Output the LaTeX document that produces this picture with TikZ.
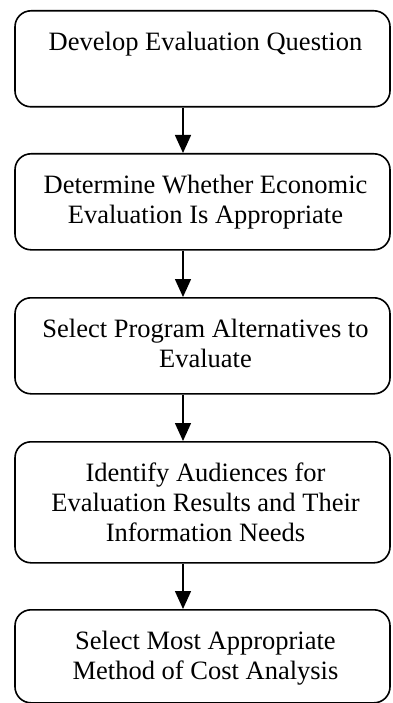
\documentclass[tikz,border=0pt]{standalone}
\usepackage{fontspec}
\setmainfont{Liberation Serif}
\usetikzlibrary{arrows.meta}
\begin{document}
\begin{tikzpicture}[x=1pt,y=-1pt,
  stage/.style={draw=black, line width=1.6pt, rounded corners=16pt,
                minimum width=375pt, inner sep=0pt, anchor=north},
  lbl/.style={align=center, inner sep=0pt, anchor=north,
              font=\fontsize{26.5}{30}\selectfont},
  flow/.style={line width=1.5pt, -{Triangle[length=18pt,width=16pt]}}]
\useasboundingbox (0,0) rectangle (392,703);

% stage boxes
\node[stage, minimum height=96pt]  (b1) at (202.5,10)  {};
\node[stage, minimum height=96pt]  (b2) at (202.5,153) {};
\node[stage, minimum height=96pt]  (b3) at (202.5,297) {};
\node[stage, minimum height=121pt] (b4) at (202.5,441) {};
\node[stage, minimum height=93pt]  (b5) at (202.5,609) {};

% stage texts, set near the top of each box
\node[lbl] (t1) at ([xshift=3pt,yshift=-22pt]b1.north) {Develop Evaluation Question};
\node[lbl] (t2) at ([xshift=3pt,yshift=-22pt]b2.north) {Determine Whether Economic\\Evaluation Is Appropriate};
\node[lbl] (t3) at ([xshift=3pt,yshift=-22pt]b3.north) {Select Program Alternatives to\\Evaluate};
\node[lbl] (t4) at ([xshift=3pt,yshift=-22pt]b4.north) {Identify Audiences for\\Evaluation Results and Their\\Information Needs};
\node[lbl] (t5) at ([xshift=3pt,yshift=-22pt]b5.north) {Select Most Appropriate\\Method of Cost Analysis};

% connectors
\coordinate (ax) at (183,0);
\draw[flow] (b1.south -| ax) -- (b2.north -| ax);
\draw[flow] (b2.south -| ax) -- (b3.north -| ax);
\draw[flow] (b3.south -| ax) -- (b4.north -| ax);
\draw[flow] (b4.south -| ax) -- (b5.north -| ax);
\end{tikzpicture}
\end{document}
